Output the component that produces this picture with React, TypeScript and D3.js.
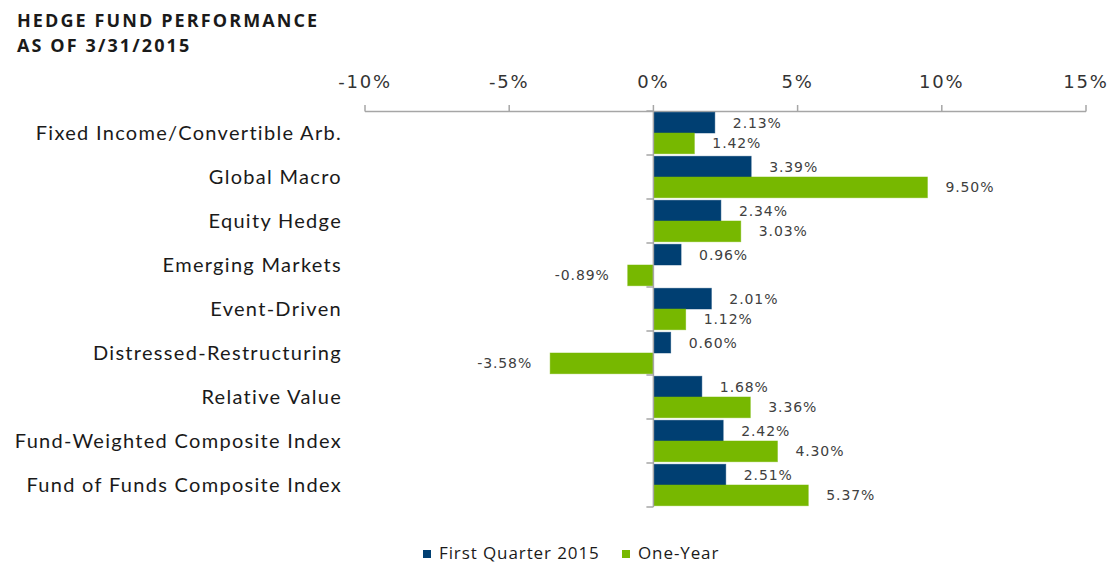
import React from "react";
import * as d3 from "d3";

const categories = [
  "Fixed Income/Convertible Arb.",
  "Global Macro",
  "Equity Hedge",
  "Emerging Markets",
  "Event-Driven",
  "Distressed-Restructuring",
  "Relative Value",
  "Fund-Weighted Composite Index",
  "Fund of Funds Composite Index",
];
const firstQuarter = [2.13, 3.39, 2.34, 0.96, 2.01, 0.6, 1.68, 2.42, 2.51];
const oneYear = [1.42, 9.5, 3.03, -0.89, 1.12, -3.58, 3.36, 4.3, 5.37];
const seriesNames = ["First Quarter 2015", "One-Year"];
const tickValues = [-10, -5, 0, 5, 10, 15];

const W = 1109;
const H = 564;
const BLUE = "#003f72";
const GREEN = "#77b800";
const AXIS = "#a6a6a6";
const SANS = "'Open Sans', Lato, sans-serif";
const LATO = "Lato, 'Open Sans', sans-serif";
const VERD = "'DejaVu Sans', Verdana, sans-serif";

export default function App() {
  const x = d3.scaleLinear().domain([-10, 15]).range([365, 1086]);
  const y = d3.scaleBand<string>().domain(categories).range([111, 507]).paddingInner(0).paddingOuter(0);
  const inner = d3.scaleBand<string>().domain(["q", "y"]).range([0, y.bandwidth()]).paddingOuter(0.06).paddingInner(0);
  const series = [
    { key: "q", values: firstQuarter, color: BLUE },
    { key: "y", values: oneYear, color: GREEN },
  ];
  const fmt = (v: number) => v.toFixed(2) + "%";
  const x0 = x(0);
  return (
    <svg width={W} height={H} style={{ position: "absolute", left: 0, top: 0, background: "#fff" }}>
      <text x={17} y={27} fontFamily={SANS} fontWeight={700} fontSize={18} letterSpacing={2.1} fill="#1a1a1a">HEDGE FUND PERFORMANCE</text>
      <text x={17} y={52} fontFamily={SANS} fontWeight={700} fontSize={18} letterSpacing={2.1} fill="#1a1a1a">AS OF 3/31/2015</text>

      {/* top axis */}
      <line x1={x(-10)} x2={x(15)} y1={111.5} y2={111.5} stroke={AXIS} strokeWidth={1.5} />
      {tickValues.map((t) => (
        <g key={t}>
          <line x1={x(t)} x2={x(t)} y1={105} y2={111.5} stroke={AXIS} strokeWidth={1.5} />
          <text x={x(t)} y={88} textAnchor="middle" fontFamily={VERD} fontSize={18} letterSpacing={1.8} fill="#333">{t + "%"}</text>
        </g>
      ))}

      {/* bars */}
      {categories.map((c, i) =>
        series.map((s) => {
          const v = s.values[i];
          const by = (y(c) as number) + (inner(s.key) as number);
          const bh = inner.bandwidth();
          const xa = Math.min(x(v), x0);
          const xb = Math.max(x(v), x0);
          return (
            <g key={c + s.key}>
              <rect x={xa} y={by} width={xb - xa} height={bh} fill={s.color} stroke={s.color} strokeOpacity={0.6} strokeWidth={0.8} />
              <text
                x={v >= 0 ? x(v) + 18 : x(v) - 18}
                y={by + bh / 2}
                dy="0.35em"
                textAnchor={v >= 0 ? "start" : "end"}
                fontFamily={VERD}
                fontSize={14}
                letterSpacing={0.9}
                fill="#404040"
              >
                {fmt(v)}
              </text>
            </g>
          );
        })
      )}

      {/* vertical axis */}
      <line x1={x0} x2={x0} y1={111} y2={507} stroke={AXIS} strokeWidth={1.5} />
      {d3.range(categories.length + 1).map((i) => {
        const yy = 111 + i * y.bandwidth();
        return <line key={i} x1={x0 - 7} x2={x0} y1={yy} y2={yy} stroke={AXIS} strokeWidth={1.5} />;
      })}

      {/* category labels */}
      {categories.map((c) => (
        <text key={c} x={342} y={(y(c) as number) + y.bandwidth() / 2} dy="0.35em" textAnchor="end" fontFamily={LATO} fontSize={20} letterSpacing={1.3} fill="#1a1a1a">
          {c}
        </text>
      ))}

      {/* legend */}
      {seriesNames.map((n, i) => {
        const lx = i === 0 ? 423 : 622;
        return (
          <g key={n}>
            <rect x={lx} y={550} width={8} height={8} fill={i === 0 ? BLUE : GREEN} />
            <text x={lx + 16} y={553} dy="0.35em" fontFamily={SANS} fontSize={17} letterSpacing={0.9} fill="#1a1a1a">{n}</text>
          </g>
        );
      })}
    </svg>
  );
}
